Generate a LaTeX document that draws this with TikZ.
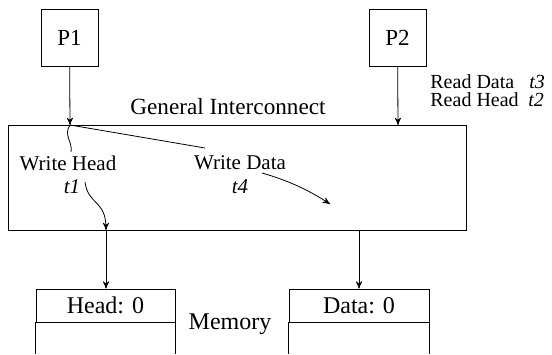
\documentclass[tikz,border=0pt]{standalone}
\usepackage{fontspec}
\setmainfont{Liberation Serif}
\usepackage{tikz}
\usetikzlibrary{arrows,positioning}
\tikzset{
    %Define standard arrow tip
    >=stealth',
    %Define style for processors
    proc/.style={
           rectangle,
           draw=black,
           minimum width=28.5pt,
           minimum height=28.5pt,
           font=\fontsize{11.5}{13}\selectfont,
           inner sep=0pt},
    %Define style for memory cells
    cell/.style={
           rectangle,
           draw=black,
           minimum height=16.5pt,
           font=\fontsize{12}{14}\selectfont,
           inner sep=0pt},
    lbl/.style={
           font=\fontsize{10.5}{12.2}\selectfont,
           inner sep=0pt},
    small/.style={
           anchor=west,
           font=\fontsize{10}{12}\selectfont,
           inner sep=0pt}
}
\begin{document}
\begin{tikzpicture}[x=0.5pt,y=-0.5pt,every node/.style={lbl}]

\useasboundingbox (0,0) rectangle (552,354);

\node[proc](p1) at (69.5,37.5){P1};
\node[proc](p2) at (397.5,37.5){P2};
\node[draw,minimum width=229pt,minimum height=52.5pt](net) at (237,177.5){};
\node[font=\fontsize{11.6}{13}\selectfont](title) at (228,107){General Interconnect};

% reads of P2
\node[small](rd) at (430,82){Read Data};
\node[small](t3) at (529,82){\textit{t3}};
\node[small](rh) at (430,100){Read Head};
\node[small](t2) at (528,100){\textit{t2}};

% writes of P1
\node(wh) at (68,163){Write Head};
\node(t1) at (72,187){\textit{t1}};
\node(wd) at (240,163){Write Data};
\node(t4) at (240,187){\textit{t4}};

\coordinate (in1) at (70,125);
\coordinate (in2) at (398,125);
\coordinate (out1) at (106,230);
\coordinate (out2) at (359,230);
\coordinate (wdtip) at (330,204);

% memory
\node[cell,minimum width=69.5pt](head) at (105.5,305.5){Head: 0};
\node[cell,minimum width=70pt](data) at (359,305.5){Data: 0};
\node[font=\fontsize{12}{14}\selectfont](mem) at (230,324){Memory};
\draw (head.south west) -- ++(0,32) (head.south east) -- ++(0,32);
\draw (data.south west) -- ++(0,32) (data.south east) -- ++(0,32);

\draw[->] (p1) -- (in1);
\draw[->] (p2) -- (in2);
\draw (in1) .. controls (63,135) and (73,142) .. (71,152);
\draw (in1) -- (205,148);
\draw[->] (85,182) .. controls (88,205) and (106,200) .. (out1);
\draw[->] (262,173) .. controls (290,181) and (310,191) .. (wdtip);
\draw[->] (out1) -- (head.north -| out1);
\draw[->] (out2) -- (data.north);

\end{tikzpicture}
\end{document}
